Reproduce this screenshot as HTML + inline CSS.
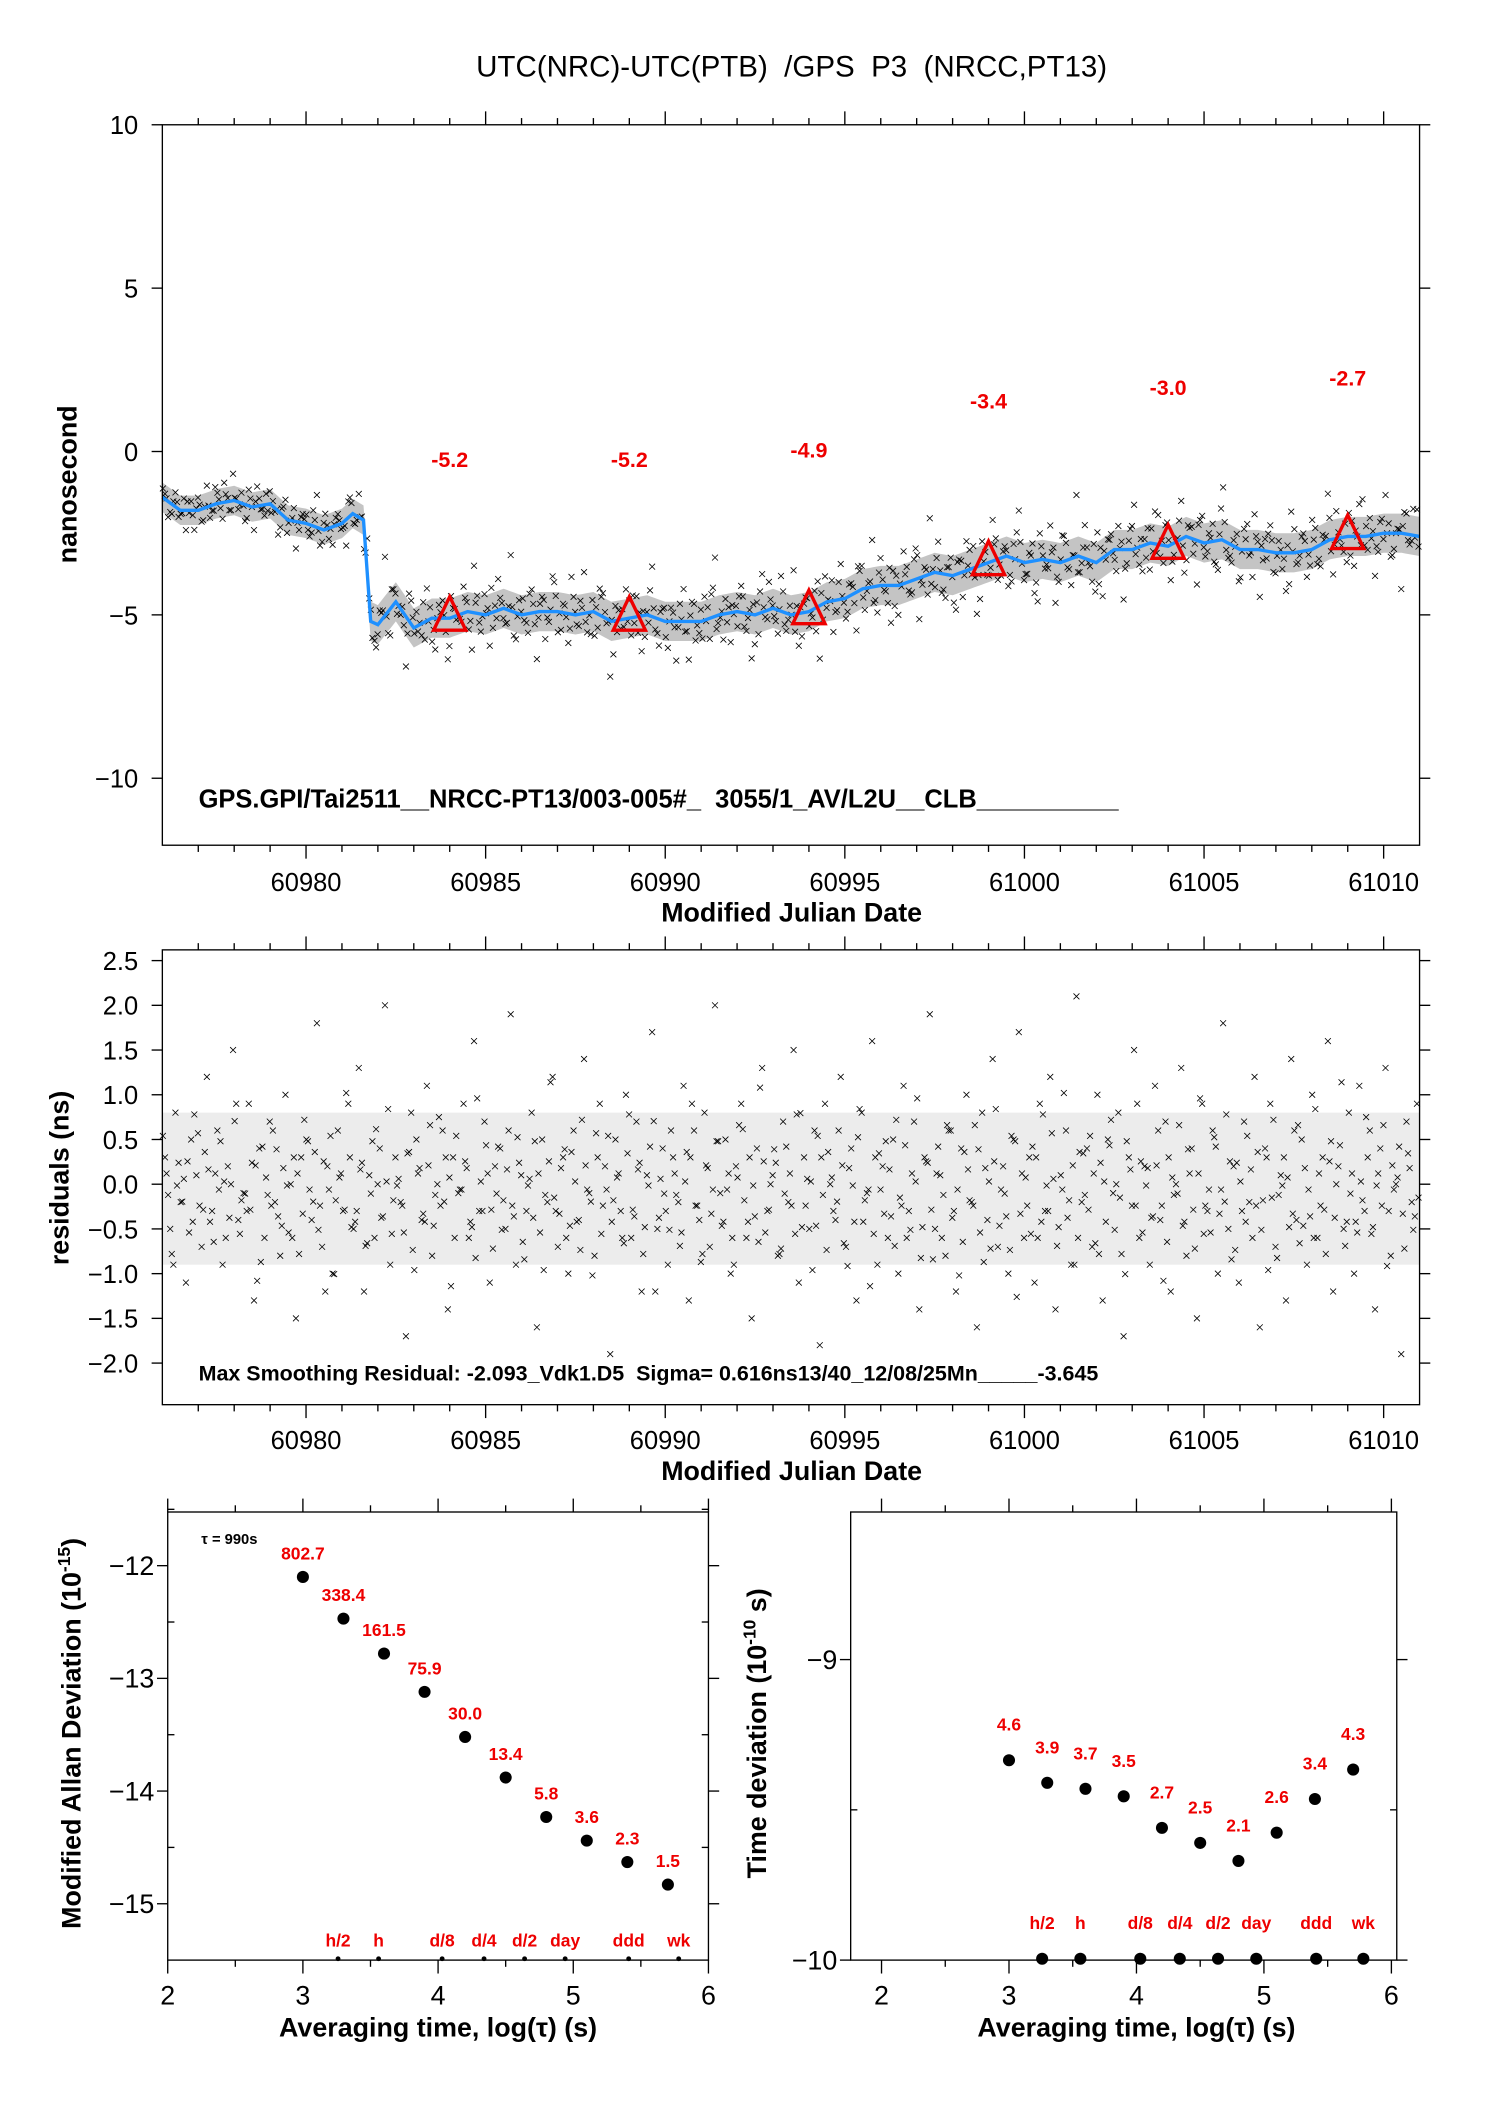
<!DOCTYPE html>
<html><head><meta charset="utf-8"><style>
html,body{margin:0;padding:0;background:#fff;}
svg{display:block;font-family:"Liberation Sans",sans-serif;}
text{white-space:pre;}
</style></head><body>
<svg id="chart" width="1488" height="2105" viewBox="0 0 1109 1569" preserveAspectRatio="none" xmlns="http://www.w3.org/2000/svg" xml:space="preserve">
<text x="590" y="57" font-size="22" text-anchor="middle">UTC(NRC)-UTC(PTB)  /GPS  P3  (NRCC,PT13)</text>
<g id="top"></g><g id="mid"></g><g id="bl"></g><g id="br"></g>
</svg>
<script>
const smoothDays=[60976,60976.5,60977,60977.5,60978,60978.5,60979,60979.5,60980,60980.5,60981,60981.3,60981.6,60981.8,60982,60982.5,60983,60983.5,60984,60984.5,60985,60985.5,60986,60986.5,60987,60987.5,60988,60988.5,60989,60989.5,60990,60990.5,60991,60991.5,60992,60992.5,60993,60993.5,60994,60994.5,60995,60995.5,60996,60996.5,60997,60997.5,60998,60998.5,60999,60999.5,61000,61000.5,61001,61001.5,61002,61002.5,61003,61003.5,61004,61004.5,61005,61005.5,61006,61006.5,61007,61007.5,61008,61008.5,61009,61009.5,61010,61010.5,61011];
const smoothVals=[-1.4,-1.8,-1.8,-1.6,-1.5,-1.7,-1.6,-2.1,-2.2,-2.4,-2.2,-1.9,-2.1,-5.2,-5.3,-4.6,-5.4,-5.1,-5.1,-4.9,-5.0,-4.8,-5.0,-4.9,-4.9,-5.0,-4.9,-5.2,-5.1,-5.0,-5.2,-5.2,-5.2,-5.0,-4.9,-5.0,-4.8,-5.0,-4.9,-4.6,-4.5,-4.2,-4.1,-4.1,-3.9,-3.7,-3.8,-3.6,-3.4,-3.2,-3.4,-3.3,-3.4,-3.2,-3.4,-3.0,-3.0,-2.8,-2.9,-2.6,-2.8,-2.7,-3.0,-3.0,-3.1,-3.1,-3.0,-2.7,-2.6,-2.6,-2.5,-2.5,-2.6];
const triDays=[60984,60989,60994,60999,61004,61009];
const triVals=[-5.2,-5.2,-4.9,-3.4,-3.0,-2.7];
const triLabels=["-5.2","-5.2","-4.9","-3.4","-3.0","-2.7"];
const resid=[0.3,-0.5,0.8,-0.2,-1.1,0.5,0.1,-0.7,1.2,-0.3,0.6,-0.9,0.2,1.5,-0.4,-0.1,0.9,-1.3,0.4,-0.6,
0.7,-0.2,-0.8,1.0,0.0,-1.5,0.3,0.5,-0.4,1.8,-0.7,0.2,-1.0,0.6,-0.3,0.9,-0.5,1.3,-1.2,0.1,
-0.6,0.4,2.0,-0.9,0.3,-0.2,-1.7,0.8,0.5,-0.4,1.1,-0.8,0.0,0.6,-1.4,0.3,-0.1,0.9,-0.6,1.6,
-0.3,0.7,-1.1,0.2,0.4,-0.5,1.9,-0.9,0.1,-0.3,0.8,-1.6,0.5,-0.2,1.2,-0.7,0.3,-1.0,0.6,-0.4,
1.4,-0.1,-0.8,0.9,0.2,-1.9,0.5,-0.3,1.0,-0.6,0.7,-1.2,0.1,1.7,-0.5,0.4,-0.9,0.3,-0.2,1.1,
-1.3,0.6,-0.4,0.8,-0.7,2.0,-0.1,0.5,-1.0,0.2,0.9,-0.6,-1.5,0.4,1.3,-0.3,0.1,-0.8,0.7,-0.2,
1.5,-1.1,0.3,-0.5,0.6,-1.8,0.9,0.0,-0.4,1.2,-0.7,0.4,-1.3,0.8,-0.1,1.6,-0.9,0.2,-0.6,0.5,
-1.0,1.1,-0.3,0.7,-1.4,0.3,1.9,-0.5,0.1,-0.8,0.6,-1.2,0.4,1.0,-0.2,-1.6,0.8,-0.4,1.4,-0.7,
0.2,-1.0,0.5,1.7,-0.6,0.3,-1.1,0.9,-0.3,1.2,-1.4,0.1,0.6,-0.9,2.1,-0.2,0.4,-0.7,1.0,-1.3,
0.5,-0.1,0.8,-1.7,0.3,1.5,-0.6,0.2,-0.9,1.1,-0.4,0.7,-1.2,0.0,1.3,-0.8,0.4,-1.5,0.9,-0.3,
0.6,-1.0,1.8,-0.5,0.2,-1.1,0.7,-0.2,1.2,-1.6,0.4,0.9,-0.7,0.1,-1.3,1.4,-0.4,0.5,-0.9,1.0,
-0.6,0.3,1.6,-1.2,0.2,-0.5,0.8,-1.0,1.1,-0.3,0.6,-1.4,0.4,1.3,-0.8,0.0,-1.9,0.7,-0.2,0.9];
const mjdTicks=[60980,60985,60990,60995,61000,61005,61010];
const nsTicks=[10,5,0,-5,-10];
const resTicks=[2.5,2.0,1.5,1.0,0.5,0.0,-0.5,-1.0,-1.5,-2.0];
const logTicks=[2,3,4,5,6];
const adevX=[3,3.3,3.6,3.9,4.2,4.5,4.8,5.1,5.4,5.7];
const adevY=[-12.1,-12.47,-12.78,-13.12,-13.52,-13.88,-14.23,-14.44,-14.63,-14.83];
const adevLabels=["802.7","338.4","161.5","75.9","30.0","13.4","5.8","3.6","2.3","1.5"];
const adevTicks=[-12,-13,-14,-15];
const tdevY=[-9.335,-9.41,-9.43,-9.455,-9.56,-9.61,-9.67,-9.576,-9.464,-9.366];
const tdevLabels=["4.6","3.9","3.7","3.5","2.7","2.5","2.1","2.6","3.4","4.3"];
const tdevTicks=[-9,-10];
const markX=[3.26,3.56,4.03,4.34,4.64,4.94,5.41,5.78];
const markLabels=["h/2","h","d/8","d/4","d/2","day","ddd","wk"];

const NS="http://www.w3.org/2000/svg";
function mk(parent,tag,attrs,txt){const e=document.createElementNS(NS,tag);for(const k in attrs)e.setAttribute(k,attrs[k]);if(txt!==undefined)e.textContent=txt;parent.appendChild(e);return e;}
function lin(d0,d1,r0,r1){return v=>r0+(v-d0)*(r1-r0)/(d1-d0);}
function interp(t){for(let i=0;i<smoothDays.length-1;i++){if(t<=smoothDays[i+1]){const a=smoothDays[i],b=smoothDays[i+1];return smoothVals[i]+(smoothVals[i+1]-smoothVals[i])*(t-a)/(b-a);}}return smoothVals[smoothVals.length-1];}
function xmark(g,x,y,s){const p=mk(g,'path',{d:`M${x-s} ${y-s}L${x+s} ${y+s}M${x-s} ${y+s}L${x+s} ${y-s}`,stroke:'#000','stroke-width':0.6});

}

function frame(g,x0,y0,x1,y1){const r=mk(g,'rect',{x:x0,y:y0,width:x1-x0,height:y1-y0,fill:'none',stroke:'#000','stroke-width':1});

}

// ---------- TOP ----------
(function(){
const g=document.getElementById('top');
const X0=121,X1=1058,Y0=93,Y1=630;
const xs=lin(60976,61011,X0,X1), ys=lin(10,-12.05,Y0,Y1);
let up=[],dn=[];
for(let t=60976;t<=61011.001;t+=0.1){const s=interp(t);const w=t<60981.7?0.45:0.6;up.push(xs(t)+','+ys(s+w));dn.unshift(xs(t)+','+ys(s-w));}
const band=mk(g,'polygon',{points:up.concat(dn).join(' '),fill:'#c4c4c4'});


const N=resid.length;
for(let i=0;i<N;i++){const t=60976+(i+0.5)*35/N;const sc=t<60981.7?0.55:0.9;xmark(g,xs(t),ys(interp(t)+resid[i]*sc),2.2);}
for(let i=0;i<N;i++){const t=60976+(i+0.1)*35/N;const sc=t<60981.7?0.4:0.6;xmark(g,xs(t),ys(interp(t)-resid[(i+7)%N]*sc),2.2);}
for(let i=0;i<N;i++){const t=60976+(i+0.8)*35/N;const sc=t<60981.7?0.3:0.45;xmark(g,xs(t),ys(interp(t)+resid[(i+31)%N]*sc),2.2);}
const line=mk(g,'polyline',{points:smoothDays.map((d,i)=>xs(d)+','+ys(smoothVals[i])).join(' '),fill:'none',stroke:'#1e90ff','stroke-width':2.5});


triDays.forEach((d,i)=>{const x=xs(d),y=ys(interp(d));
const tr=mk(g,'polygon',{points:`${x},${y-16} ${x-12},${y+9} ${x+12},${y+9}`,fill:'none',stroke:'#e00','stroke-width':2.5});


const lb=mk(g,'text',{x:x,y:ys(triVals[i])-115,'font-size':16,'font-weight':'bold',fill:'#e00','text-anchor':'middle'},triLabels[i]);

});
frame(g,X0,Y0,X1,Y1);
for(let d=60977;d<=61010;d++){const x=xs(d);const big=d%5===0;
mk(g,'line',{x1:x,y1:Y0,x2:x,y2:Y0-(big?10:5),stroke:'#000'});mk(g,'line',{x1:x,y1:Y1,x2:x,y2:Y1+(big?10:5),stroke:'#000'});}
mjdTicks.forEach(d=>{const t=mk(g,'text',{x:xs(d),y:664,'font-size':19,'text-anchor':'middle'},String(d));

});
nsTicks.forEach(v=>{const y=ys(v);mk(g,'line',{x1:X0-8,y1:y,x2:X0,y2:y,stroke:'#000'});mk(g,'line',{x1:X1,y1:y,x2:X1+8,y2:y,stroke:'#000'});
const t=mk(g,'text',{x:X0-18,y:y+7,'font-size':19,'text-anchor':'end'},v<0?'\u2212'+Math.abs(v):String(v));

});
const xl=mk(g,'text',{x:590,y:687,'font-size':20,'font-weight':'bold','text-anchor':'middle'},'Modified Julian Date');


const yl=mk(g,'text',{x:0,y:0,'font-size':20,'font-weight':'bold','text-anchor':'middle',transform:'translate(57,361) rotate(-90)'},'nanosecond');


const ft=mk(g,'text',{x:148,y:602,'font-size':19,'font-weight':'bold'},'GPS.GPI/Tai2511__NRCC-PT13/003-005#_  3055/1_AV/L2U__CLB__________');


})();

// ---------- MIDDLE ----------
(function(){
const g=document.getElementById('mid');
const X0=121,X1=1058,Y0=708,Y1=1047;
const xs=lin(60976,61011,X0,X1), ys=lin(2.5,-2.0,716,1016);
const band=mk(g,'rect',{x:X0,y:ys(0.8),width:X1-X0,height:ys(-0.9)-ys(0.8),fill:'#ececec'});


const N=resid.length;
for(let i=0;i<N;i++){const t=60976+(i+0.5)*35/N;xmark(g,xs(t),ys(resid[i]),2.2);}
for(let i=0;i<N;i++){const t=60976+(i+0.1)*35/N;xmark(g,xs(t),ys(-resid[(i+11)%N]*0.6),2.2);}
for(let i=0;i<N;i++){const t=60976+(i+0.8)*35/N;xmark(g,xs(t),ys(resid[(i+53)%N]*0.45-0.15),2.2);}
frame(g,X0,Y0,X1,Y1);
for(let d=60977;d<=61010;d++){const x=xs(d);const big=d%5===0;
mk(g,'line',{x1:x,y1:Y0,x2:x,y2:Y0-(big?10:5),stroke:'#000'});mk(g,'line',{x1:x,y1:Y1,x2:x,y2:Y1+(big?10:5),stroke:'#000'});}
mjdTicks.forEach(d=>{const t=mk(g,'text',{x:xs(d),y:1080,'font-size':19,'text-anchor':'middle'},String(d));

});
resTicks.forEach(v=>{const y=ys(v);mk(g,'line',{x1:X0-8,y1:y,x2:X0,y2:y,stroke:'#000'});mk(g,'line',{x1:X1,y1:y,x2:X1+8,y2:y,stroke:'#000'});
const t=mk(g,'text',{x:X0-18,y:y+7,'font-size':19,'text-anchor':'end'},(v<0?'\u2212':'')+Math.abs(v).toFixed(1));

});
const xl=mk(g,'text',{x:590,y:1103,'font-size':20,'font-weight':'bold','text-anchor':'middle'},'Modified Julian Date');


const yl=mk(g,'text',{x:0,y:0,'font-size':20,'font-weight':'bold','text-anchor':'middle',transform:'translate(51,878) rotate(-90)'},'residuals (ns)');


const ft=mk(g,'text',{x:148,y:1029,'font-size':16,'font-weight':'bold'},'Max Smoothing Residual: -2.093_Vdk1.D5  Sigma= 0.616ns13/40_12/08/25Mn_____-3.645');


})();

// ---------- DEVIATION PANELS ----------
function devPanel(id,X0,X1,xa,xb,ya,yb,yva,yvb,ys_vals,labels,ticks,minor,lblOff,ytitle,ytx,markDotR){
const g=document.getElementById(id);
const Y0=1127,Y1=1461;
const xs=lin(2,6,xa,xb), ys=lin(yva,yvb,ya,yb);
frame(g,X0,Y0,X1,Y1);
for(let v=2;v<=6.001;v+=0.5){const x=xs(v);const big=Math.abs(v-Math.round(v))<0.01;
mk(g,'line',{x1:x,y1:Y0,x2:x,y2:Y0-(big?10:5),stroke:'#000'});mk(g,'line',{x1:x,y1:Y1,x2:x,y2:Y1+(big?10:5),stroke:'#000'});}
logTicks.forEach(v=>{const t=mk(g,'text',{x:xs(v),y:1494,'font-size':20,'text-anchor':'middle'},String(v));

});
minor.forEach(v=>{const y=ys(v);mk(g,'line',{x1:X0,y1:y,x2:X0+5,y2:y,stroke:'#000'});mk(g,'line',{x1:X1-5,y1:y,x2:X1,y2:y,stroke:'#000'});});
ticks.forEach(v=>{const y=ys(v);mk(g,'line',{x1:X0-8,y1:y,x2:X0,y2:y,stroke:'#000'});mk(g,'line',{x1:X1,y1:y,x2:X1+8,y2:y,stroke:'#000'});
const t=mk(g,'text',{x:X0-10,y:y+7,'font-size':20,'text-anchor':'end'},'\u2212'+Math.abs(v));

});
adevX.forEach((x,i)=>{const c=mk(g,'circle',{cx:xs(x),cy:ys(ys_vals[i]),r:4.5,fill:'#000'});


const t=mk(g,'text',{x:xs(x),y:ys(ys_vals[i])-lblOff,'font-size':13,'font-weight':'bold',fill:'#e00','text-anchor':'middle'},labels[i]);

});
markX.forEach((x,i)=>{const c=mk(g,'circle',{cx:xs(x),cy:Y1-1,r:markDotR,fill:'#000'});


const t=mk(g,'text',{x:xs(x),y:markDotR>2?1438:1451,'font-size':13,'font-weight':'bold',fill:'#e00','text-anchor':'middle'},markLabels[i]);

});
const xl=mk(g,'text',{x:(xa+xb)/2,y:1518,'font-size':20,'font-weight':'bold','text-anchor':'middle'},'Averaging time, log(\u03c4) (s)');


const yl=mk(g,'text',{x:0,y:0,'font-size':20,'font-weight':'bold','text-anchor':'middle',transform:`translate(${ytx},1292) rotate(-90)`});


yl.appendChild(document.createTextNode(ytitle[0]));
mk(yl,'tspan',{'font-size':13,dy:-8},ytitle[1]);
mk(yl,'tspan',{dy:8},ytitle[2]);
return {g,xs,ys};}

const L=devPanel('bl',125,528,125,528,1167,1419,-12,-15,adevY,adevLabels,adevTicks,[-11.5,-12.5,-13.5,-14.5],13,['Modified Allan Deviation (10','-15',')'],60,1.8);
const tau=mk(L.g,'text',{x:150,y:1151,'font-size':11,'font-weight':'bold'},'\u03c4 = 990s');


devPanel('br',634,1041,657,1037,1237,1461,-9,-10,tdevY,tdevLabels,tdevTicks,[-9.5],22,['Time deviation (10','-10',' s)'],571,4.5);
</script>
</body></html>
